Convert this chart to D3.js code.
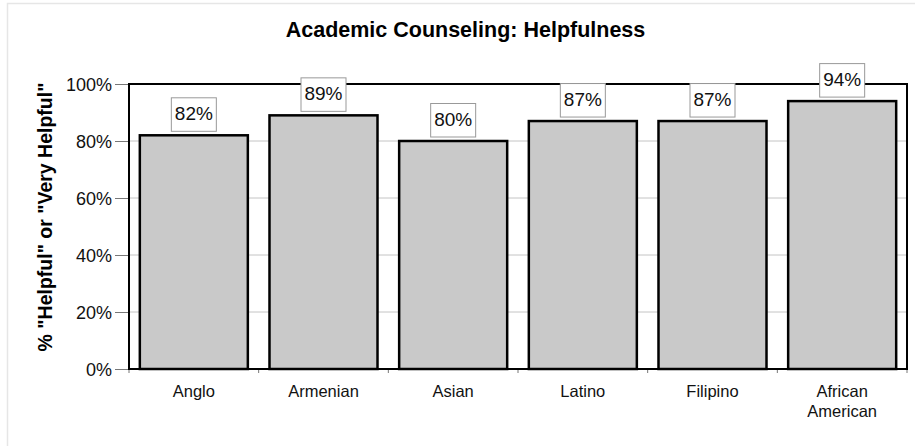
<!DOCTYPE html>
<html>
<head>
<meta charset="utf-8">
<script src="https://cdn.jsdelivr.net/npm/d3@7"></script>
<style>
  html, body { margin: 0; padding: 0; background: #fff; }
  svg { display: block; font-family: "Liberation Sans", Arial, sans-serif; }
</style>
</head>
<body>
<svg id="chart" width="915" height="446"></svg>
<script>
const categories = ["Anglo", "Armenian", "Asian", "Latino", "Filipino", "African American"];
const values = [82, 89, 80, 87, 87, 94];
const yTicks = [0, 20, 40, 60, 80, 100];
const titleText = "Academic Counseling: Helpfulness";
const yTitleText = '% "Helpful" or "Very Helpful"';

const svg = d3.select("#chart");
const W = 915, H = 446;
const plot = { left: 129, right: 907, top: 84, bottom: 369 };

// outer frame of the chart area
svg.append("rect")
  .attr("x", 7.5).attr("y", 3.5)
  .attr("width", W).attr("height", H)
  .attr("fill", "#fff")
  .attr("stroke", "#e6e6e6").attr("stroke-width", 1.5);

const x = d3.scaleBand()
  .domain(categories)
  .range([plot.left, plot.right])
  .paddingInner(0.167)
  .paddingOuter(0.0835);

const y = d3.scaleLinear().domain([0, 100]).range([plot.bottom, plot.top]);

// horizontal gridlines
svg.append("g")
  .selectAll("line")
  .data(yTicks.filter(t => t > 0 && t < 100))
  .join("line")
  .attr("x1", plot.left).attr("x2", plot.right)
  .attr("y1", d => y(d)).attr("y2", d => y(d))
  .attr("stroke", "#c4c4c4").attr("stroke-width", 1);

// y axis ticks and labels
const yAxis = d3.axisLeft(y)
  .tickValues(yTicks)
  .tickFormat(d => d + "%")
  .tickSize(14)
  .tickPadding(3);
const gy = svg.append("g").attr("transform", `translate(${plot.left},0)`).call(yAxis);
gy.select(".domain").remove();
gy.selectAll(".tick line").attr("stroke", "#777").attr("stroke-width", 1);
gy.selectAll(".tick text")
  .attr("font-size", 18)
  .attr("font-family", "Liberation Sans, Arial, sans-serif")
  .attr("fill", "#111")
  .attr("dy", "0.37em");

// x axis ticks at band boundaries
const step = x.step();
const boundaries = d3.range(categories.length + 1).map(i => plot.left + i * step);
svg.append("g")
  .selectAll("line")
  .data(boundaries)
  .join("line")
  .attr("x1", d => d).attr("x2", d => d)
  .attr("y1", plot.bottom).attr("y2", plot.bottom + 4)
  .attr("stroke", "#777").attr("stroke-width", 1);

// bars
svg.append("g")
  .selectAll("rect")
  .data(categories.map((c, i) => ({ c, v: values[i] })))
  .join("rect")
  .attr("x", d => x(d.c))
  .attr("y", d => y(d.v))
  .attr("width", x.bandwidth())
  .attr("height", d => y(0) - y(d.v))
  .attr("fill", "#c9c9c9")
  .attr("stroke", "#000")
  .attr("stroke-width", 2.5);

// plot border
svg.append("rect")
  .attr("x", plot.left).attr("y", plot.top)
  .attr("width", plot.right - plot.left)
  .attr("height", plot.bottom - plot.top)
  .attr("fill", "none")
  .attr("stroke", "#000").attr("stroke-width", 2);

// x category labels (multi-line where needed)
const xl = svg.append("g")
  .selectAll("text")
  .data(categories)
  .join("text")
  .attr("x", d => x(d) + x.bandwidth() / 2)
  .attr("y", 397)
  .attr("text-anchor", "middle")
  .attr("font-size", 16.5)
  .attr("fill", "#111");
xl.each(function(d) {
  const words = d.split(" ");
  const t = d3.select(this);
  words.forEach((w, i) => {
    t.append("tspan")
      .attr("x", x(d) + x.bandwidth() / 2)
      .attr("dy", i === 0 ? 0 : 20)
      .text(w);
  });
});

// value labels in boxes
const lab = svg.append("g")
  .selectAll("g")
  .data(categories.map((c, i) => ({ c, v: values[i] })))
  .join("g")
  .attr("transform", d => `translate(${x(d.c) + x.bandwidth() / 2},${y(d.v) - 4})`);
lab.append("rect")
  .attr("x", -22.5).attr("y", -33.5)
  .attr("width", 45).attr("height", 33.5)
  .attr("fill", "#fff")
  .attr("stroke", "#999").attr("stroke-width", 1);
lab.append("text")
  .attr("x", 0).attr("y", -11)
  .attr("text-anchor", "middle")
  .attr("font-size", 19)
  .attr("fill", "#111")
  .text(d => d.v + "%");

// chart title
svg.append("text")
  .attr("x", 465.5).attr("y", 37)
  .attr("text-anchor", "middle")
  .attr("font-size", 21.5)
  .attr("font-weight", "bold")
  .attr("fill", "#000")
  .text(titleText);

// y axis title
svg.append("text")
  .attr("transform", `translate(52,217) rotate(-90)`)
  .attr("text-anchor", "middle")
  .attr("font-size", 19.5)
  .attr("font-weight", "bold")
  .attr("fill", "#000")
  .text(yTitleText);
</script>
</body>
</html>
